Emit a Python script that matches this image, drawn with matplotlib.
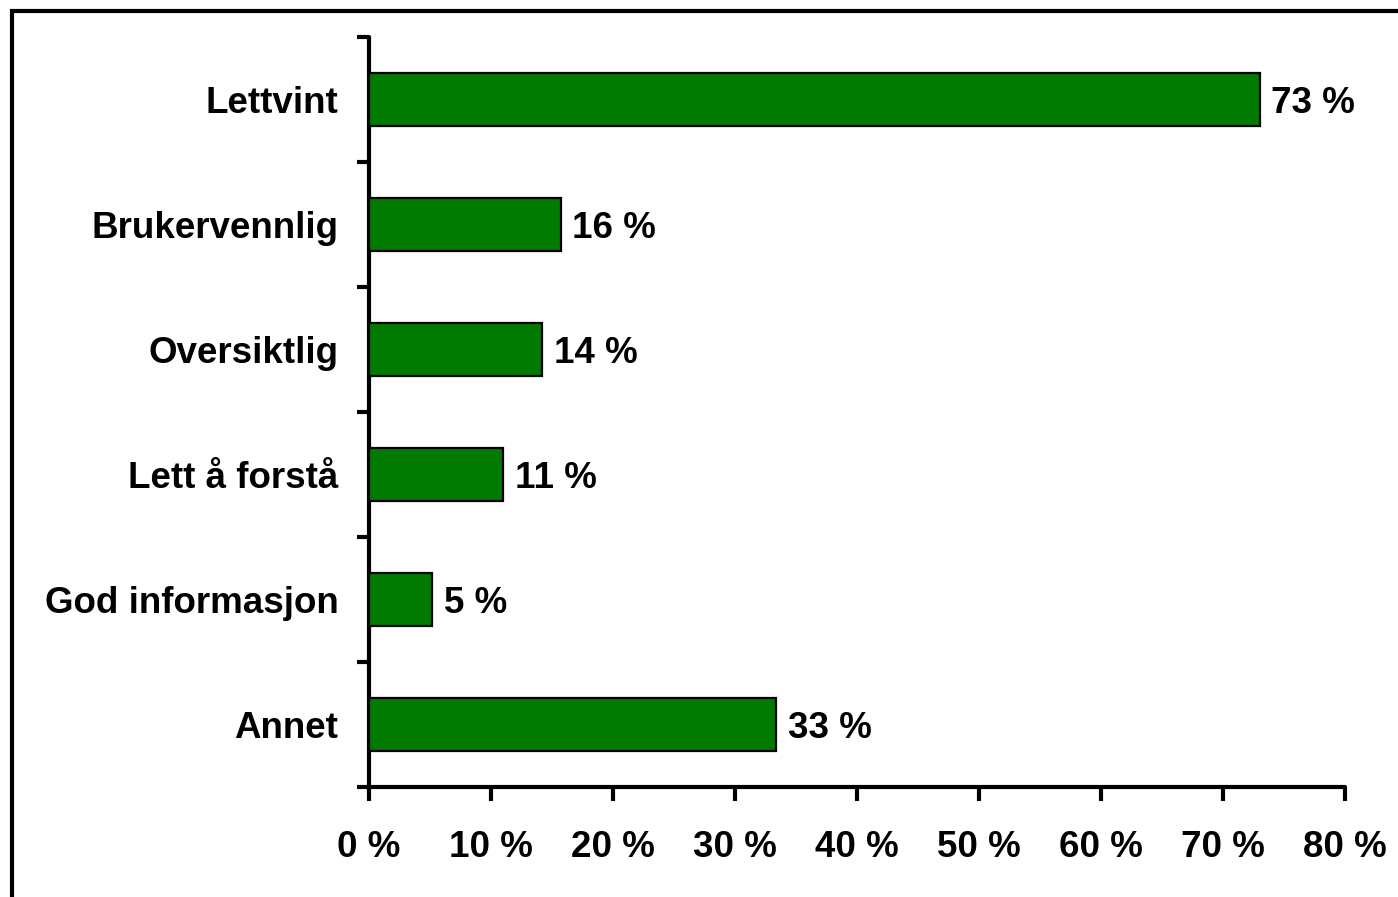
import matplotlib
matplotlib.use("Agg")
import matplotlib.pyplot as plt
from matplotlib.patches import Rectangle
import numpy as np

categories = ["Lettvint", "Brukervennlig", "Oversiktlig", "Lett å forstå", "God informasjon", "Annet"]
values = [73.0, 15.7, 14.2, 11.0, 5.2, 33.4]
value_labels = ["73 %", "16 %", "14 %", "11 %", "5 %", "33 %"]
x_ticks = [0, 10, 20, 30, 40, 50, 60, 70, 80]
x_tick_labels = ["0 %", "10 %", "20 %", "30 %", "40 %", "50 %", "60 %", "70 %", "80 %"]

plt.rcParams['font.family'] = ['Liberation Sans', 'DejaVu Sans']
plt.rcParams['font.weight'] = 'bold'

FS = 26.5

fig = plt.figure(figsize=(13.98, 8.97), dpi=100)
W, H = 1398, 897
ax = fig.add_axes([369 / W, 1 - 787 / H, (1345 - 369) / W, (787 - 37) / H])

# outer frame
fig.patches.append(Rectangle((12 / W, -0.05), 1.2, 1 - 11 / H + 0.05, transform=fig.transFigure,
                             fill=False, edgecolor='black', linewidth=3.0, zorder=0))

y = np.arange(len(categories))
ax.barh(y, values, height=0.42, color='#007A00', edgecolor='black', linewidth=1.6, zorder=3)

for yi, v, lab in zip(y, values, value_labels):
    ax.text(v + 0.95, yi, lab, va='center_baseline', ha='left', fontsize=FS, fontweight='bold')

ax.set_xlim(0, 80)
ax.set_ylim(len(categories) - 0.5, -0.5)

ax.set_xticks(x_ticks)
ax.set_xticklabels(x_tick_labels, fontsize=FS, fontweight='bold')

ax.set_yticks(np.arange(-0.5, len(categories), 1.0))
ax.set_yticklabels([])
ax.set_yticks(y, minor=True)
ax.set_yticklabels(categories, minor=True, fontsize=FS, fontweight='bold')

for s in ['top', 'right']:
    ax.spines[s].set_visible(False)
for s in ['left', 'bottom']:
    ax.spines[s].set_linewidth(3.0)
    ax.spines[s].set_capstyle('round')

ax.tick_params(axis='y', which='major', direction='out', length=9, width=3.0)
ax.tick_params(axis='y', which='minor', length=0, pad=22)
ax.tick_params(axis='x', which='major', direction='out', length=10, width=3.0, pad=21)

fig.savefig("out.png", dpi=100)
